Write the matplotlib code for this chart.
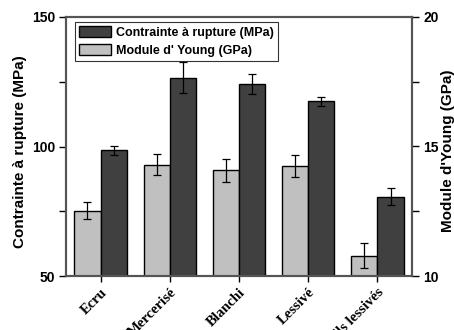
import numpy as np
import matplotlib.pyplot as plt

# Données
categories = ["Ecru", "Mercerisé", "Blanchi", "Lessivé", "Fils lessivés"]
contrainte = [98.5, 126.6, 124.1, 117.4, 80.6]        # MPa
contrainte_err = [1.6, 6.0, 3.9, 1.9, 3.3]
module = [12.52, 14.30, 14.08, 14.25, 10.78]           # GPa
module_err = [0.33, 0.40, 0.45, 0.42, 0.48]

plt.rcParams["font.family"] = ["Liberation Sans", "DejaVu Sans"]
plt.rcParams["font.weight"] = "bold"

fig = plt.figure(figsize=(4.54, 3.30), dpi=100)
ax = fig.add_axes([66 / 454, 1 - 276 / 330, 346 / 454, 259 / 330])
ax2 = ax.twinx()

x = np.arange(len(categories))
w = 0.38

b2 = ax2.bar(x - w / 2, module, w, yerr=module_err, color="#c0c0c0", edgecolor="black",
             linewidth=1, capsize=3, error_kw=dict(elinewidth=0.9, capthick=0.9),
             label="Module d' Young (GPa)", zorder=2)
b1 = ax.bar(x + w / 2, contrainte, w, yerr=contrainte_err, color="#404040", edgecolor="black",
            linewidth=1, capsize=3, error_kw=dict(elinewidth=0.9, capthick=0.9),
            label="Contrainte à rupture (MPa)", zorder=2)

ax.set_zorder(ax2.get_zorder() + 1)
ax.patch.set_visible(False)

ax.set_xlim(-0.5, 4.5)
ax.set_ylim(50, 150)
ax2.set_ylim(10, 20)

ax.set_yticks([50, 75, 100, 125, 150])
ax.set_yticklabels(["50", "", "100", "", "150"])
ax2.set_yticks([10, 12.5, 15, 17.5, 20])
ax2.set_yticklabels(["10", "", "15", "", "20"])

ax.set_xticks(x)
ax.set_xticklabels(categories, rotation=45, ha="right", rotation_mode="anchor",
                   family="Liberation Serif", fontweight="bold", fontsize=10.5)

for a in (ax, ax2):
    a.tick_params(axis="y", direction="out", length=5, width=1, labelsize=10, pad=3)
    for s in a.spines.values():
        s.set_color("#555555")
        s.set_linewidth(1.5)
ax.tick_params(axis="x", direction="out", length=4, width=1, pad=3)

ax.set_ylabel("Contrainte à rupture (MPa)", fontsize=11, fontweight="bold")
ax.yaxis.set_label_coords((27 - 66) / 346, (276 - 152) / 259)
ax2.set_ylabel("Module d'Young (GPa)", fontsize=11, fontweight="bold", rotation=90)
ax2.yaxis.set_label_coords((441 - 66) / 346, (276 - 151) / 259)

leg = ax.legend([b1, b2], ["Contrainte à rupture (MPa)", "Module d' Young (GPa)"],
                loc="upper left", bbox_to_anchor=(9 / 346, 254 / 259), fontsize=9,
                frameon=True, fancybox=False, edgecolor="black", borderpad=0.3,
                labelspacing=0.45, handlelength=2.6, handleheight=1.0,
                handletextpad=0.4, borderaxespad=0)
leg.get_frame().set_linewidth(0.8)

plt.savefig("out.png", dpi=100)
